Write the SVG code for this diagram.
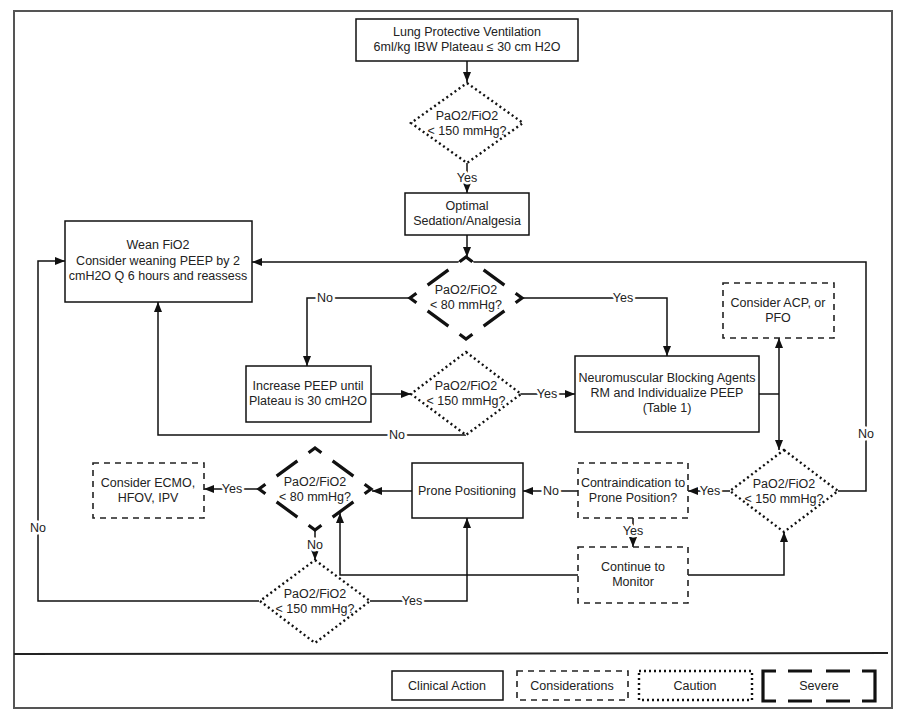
<svg xmlns="http://www.w3.org/2000/svg" width="910" height="723" viewBox="0 0 910 723">
<style>
text{font-family:"Liberation Sans",Arial,sans-serif;font-size:12.5px;fill:#222;text-anchor:middle}
.box{fill:#fff;stroke:#111;stroke-width:1.5}
.cons{fill:#fff;stroke:#222;stroke-width:1.6;stroke-dasharray:6 5}
.caut{fill:#fff;stroke:#111;stroke-width:2.4;stroke-dasharray:2 3}
.sev{fill:#fff;stroke:#111;stroke-width:3.2;stroke-dasharray:16 14 26 14}
.ln{fill:none;stroke:#111;stroke-width:1.5}
.arr{marker-end:url(#ah)}
.lbl{stroke:#fff;stroke-width:5;paint-order:stroke;stroke-linejoin:round}
</style>
<defs>
<marker id="ah" markerUnits="userSpaceOnUse" viewBox="0 0 10 8" markerWidth="10" markerHeight="8" refX="10" refY="4" orient="auto">
<path d="M0,0 L10,4 L0,8 z" fill="#111"/>
</marker>
</defs>
<rect x="14" y="11" width="878" height="697" fill="#fff" stroke="#555" stroke-width="2"/>
<line x1="14" y1="654" x2="888" y2="653" stroke="#222" stroke-width="2"/>

<g id="connectors">
<path class="ln arr" d="M467,61 L467,82"/>
<path class="ln arr" d="M467,163 L467,193"/>
<path class="ln arr" d="M467,235 L467,257"/>
<path class="ln arr" d="M410,298 L307,298 L307,366"/>
<path class="ln arr" d="M522,298 L667,298 L667,356"/>
<path class="ln arr" d="M371,394 L411,394"/>
<path class="ln arr" d="M520,394 L575,394"/>
<path class="ln arr" d="M466,435 L158,435 L158,302"/>
<path class="ln" d="M759,394 L779,394"/>
<path class="ln arr" d="M779,394 L779,338"/>
<path class="ln arr" d="M779,394 L779,450"/>
<path class="ln arr" d="M838,491 L866,491 L866,262 L252,262"/>
<path class="ln arr" d="M730,491 L688,491"/>
<path class="ln arr" d="M578,491 L523,491"/>
<path class="ln arr" d="M633,518 L633,547"/>
<path class="ln arr" d="M688,575 L784,575 L784,532"/>
<path class="ln arr" d="M578,575 L340,575 L340,513"/>
<path class="ln arr" d="M412,491 L372,491"/>
<path class="ln arr" d="M259,489 L204,489"/>
<path class="ln arr" d="M315,530 L315,560"/>
<path class="ln arr" d="M370,601 L467,601 L467,518"/>
<path class="ln arr" d="M259,601 L38,601 L38,261 L65,261"/>
<text class="lbl" x="467" y="182">Yes</text>
<text class="lbl" x="325" y="302">No</text>
<text class="lbl" x="623" y="302">Yes</text>
<text class="lbl" x="547" y="398">Yes</text>
<text class="lbl" x="397" y="439">No</text>
<text class="lbl" x="866" y="438">No</text>
<text class="lbl" x="710" y="495">Yes</text>
<text class="lbl" x="551" y="495">No</text>
<text class="lbl" x="633" y="535">Yes</text>
<text class="lbl" x="232" y="493">Yes</text>
<text class="lbl" x="315" y="549">No</text>
<text class="lbl" x="412" y="605">Yes</text>
<text class="lbl" x="38" y="532">No</text>
</g>

<g id="n-lpv">
<rect class="box" x="356" y="19" width="222" height="42"/>
<text x="467" y="36">Lung Protective Ventilation</text>
<text x="467" y="51">6ml/kg IBW Plateau ≤ 30 cm H2O</text>
</g>
<g id="n-d1">
<path class="caut" d="M467,83 L523,123 L467,163 L411,123 Z"/>
<text x="467" y="120">PaO2/FiO2</text>
<text x="467" y="135">&lt; 150 mmHg?</text>
</g>
<g id="n-sed">
<rect class="box" x="405" y="193" width="124" height="42"/>
<text x="467" y="210">Optimal</text>
<text x="467" y="225">Sedation/Analgesia</text>
</g>
<g id="n-wean">
<rect class="box" x="65" y="221" width="187" height="81"/>
<text x="158" y="249">Wean FiO2</text>
<text x="158" y="265">Consider weaning PEEP by 2</text>
<text x="158" y="280">cmH2O Q 6 hours and reassess</text>
</g>
<g id="n-d80a">
<path class="sev" pathLength="280" d="M466,257 L522,298 L466,339 L410,298 Z" stroke-dashoffset="8"/>
<text x="466" y="294">PaO2/FiO2</text>
<text x="466" y="309">&lt; 80 mmHg?</text>
</g>
<g id="n-inc">
<rect class="box" x="246" y="366" width="125" height="56"/>
<text x="308" y="390">Increase PEEP until</text>
<text x="308" y="405">Plateau is 30 cmH2O</text>
</g>
<g id="n-d2">
<path class="caut" d="M466,352 L521,394 L466,435 L411,394 Z"/>
<text x="466" y="390">PaO2/FiO2</text>
<text x="466" y="405">&lt; 150 mmHg?</text>
</g>
<g id="n-nmb">
<rect class="box" x="575" y="356" width="184" height="76"/>
<text x="667" y="382">Neuromuscular Blocking Agents</text>
<text x="667" y="397">RM and Individualize PEEP</text>
<text x="667" y="412">(Table 1)</text>
</g>
<g id="n-acp">
<rect class="cons" x="723" y="283" width="111" height="55"/>
<text x="778" y="307">Consider ACP, or</text>
<text x="778" y="322">PFO</text>
</g>
<g id="n-d3">
<path class="caut" d="M784,450 L838,491 L784,532 L730,491 Z"/>
<text x="784" y="488">PaO2/FiO2</text>
<text x="784" y="503">&lt; 150 mmHg?</text>
</g>
<g id="n-contra">
<rect class="cons" x="578" y="463" width="110" height="55"/>
<text x="633" y="487">Contraindication to</text>
<text x="633" y="502">Prone Position?</text>
</g>
<g id="n-cont">
<rect class="cons" x="578" y="547" width="110" height="56"/>
<text x="633" y="571">Continue to</text>
<text x="633" y="586">Monitor</text>
</g>
<g id="n-prone">
<rect class="box" x="412" y="463" width="111" height="55"/>
<text x="467" y="495">Prone Positioning</text>
</g>
<g id="n-d80b">
<path class="sev" pathLength="280" d="M315,448 L371,489 L315,530 L259,489 Z" stroke-dashoffset="8"/>
<text x="315" y="486">PaO2/FiO2</text>
<text x="315" y="501">&lt; 80 mmHg?</text>
</g>
<g id="n-ecmo">
<rect class="cons" x="93" y="463" width="111" height="55"/>
<text x="148" y="487">Consider ECMO,</text>
<text x="148" y="502">HFOV, IPV</text>
</g>
<g id="n-d4">
<path class="caut" d="M315,560 L370,601 L315,643 L260,601 Z"/>
<text x="315" y="598">PaO2/FiO2</text>
<text x="315" y="613">&lt; 150 mmHg?</text>
</g>

<g id="legend">
<rect class="box" x="392" y="671" width="111" height="29" stroke-width="1.3"/>
<text x="447" y="690">Clinical Action</text>
<rect class="cons" x="517" y="671" width="111" height="29"/>
<text x="572" y="690">Considerations</text>
<rect class="caut" x="639" y="671" width="113" height="29"/>
<text x="695" y="690">Caution</text>
<rect x="763" y="671" width="112" height="30" fill="#fff" stroke="#111" stroke-width="3.2" stroke-dasharray="13 12 24 14 24 12 56 12 24 14 24 12 43"/>
<text x="819" y="690">Severe</text>
</g>
</svg>
